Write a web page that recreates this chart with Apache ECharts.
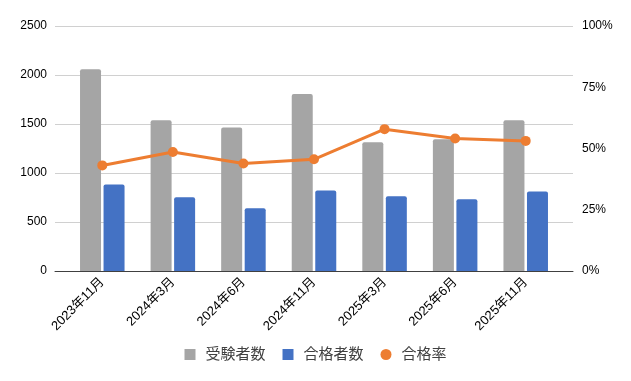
<!DOCTYPE html>
<html>
<head>
<meta charset="utf-8">
<script src="https://cdn.jsdelivr.net/npm/echarts@6/dist/echarts.min.js"></script>
<style>
html, body { margin: 0; padding: 0; background: #fff; }
#main { width: 631px; height: 381px; }
</style>
</head>
<body>
<div id="main"></div>
<script>
const months = ['2023年11月', '2024年3月', '2024年6月', '2024年11月', '2025年3月', '2025年6月', '2025年11月'];
const examinees = [2058, 1537, 1465, 1805, 1315, 1345, 1537];
const passers = [883, 753, 641, 821, 763, 732, 811];
const passRate = [0.431, 0.486, 0.439, 0.456, 0.579, 0.541, 0.531];

const font = '"Liberation Sans", "Noto Sans CJK JP", sans-serif';
const myChart = echarts.init(document.getElementById('main'));

const option = {
	animation: false,
	textStyle: { fontFamily: font },
	legend: {
		left: 'center',
		top: 342,
		itemWidth: 11,
		itemHeight: 11,
		itemGap: 17,
		textStyle: { fontSize: 15, color: '#404040', fontFamily: font, padding: [0, 0, 0, 5] },
		data: [
			{ name: '受験者数', icon: 'rect' },
			{ name: '合格者数', icon: 'rect' },
			{ name: '合格率', icon: 'circle' }
		]
	},
	// grid 0 draws the axes and gridlines, grid 1 holds the data
	grid: [
		{ left: 55, right: 58, top: 26, bottom: 110 },
		{ left: 67, right: 70, top: 26, bottom: 110 }
	],
	xAxis: [
		{
			type: 'category',
			gridIndex: 0,
			data: months,
			axisLine: { lineStyle: { color: '#404040', width: 1 } },
			axisTick: { show: false },
			axisLabel: { show: false }
		},
		{
			type: 'category',
			gridIndex: 1,
			data: months,
			axisLine: { show: false },
			axisTick: { show: false },
			axisLabel: {
				rotate: 45,
				fontSize: 13,
				color: '#000',
				margin: 9,
				fontFamily: font
			}
		}
	],
	yAxis: [
		{
			type: 'value',
			gridIndex: 0,
			min: 0,
			max: 2500,
			interval: 500,
			axisLine: { show: false },
			axisTick: { show: false },
			axisLabel: {
				fontSize: 12,
				color: '#000',
				margin: 8,
				formatter: function (v) { return String(v); }
			},
			splitLine: { lineStyle: { color: '#d0d0d0' } }
		},
		{
			type: 'value',
			gridIndex: 0,
			position: 'right',
			min: 0,
			max: 1,
			interval: 0.25,
			axisLine: { show: false },
			axisTick: { show: false },
			axisLabel: {
				fontSize: 12,
				color: '#000',
				margin: 9,
				formatter: function (v) { return Math.round(v * 100) + '%'; }
			},
			splitLine: { show: false }
		},
		{ type: 'value', gridIndex: 1, min: 0, max: 2500, show: false },
		{ type: 'value', gridIndex: 1, min: 0, max: 1, show: false, position: 'right' }
	],
	series: [
		{
			name: '受験者数',
			type: 'bar',
			xAxisIndex: 1,
			yAxisIndex: 2,
			data: examinees,
			barWidth: 21,
			barGap: '12%',
			itemStyle: { color: '#A5A5A5', borderRadius: [2, 2, 0, 0] }
		},
		{
			name: '合格者数',
			type: 'bar',
			xAxisIndex: 1,
			yAxisIndex: 2,
			data: passers,
			barWidth: 21,
			itemStyle: { color: '#4472C4', borderRadius: [2, 2, 0, 0] }
		},
		{
			name: '合格率',
			type: 'line',
			xAxisIndex: 1,
			yAxisIndex: 3,
			data: passRate,
			symbol: 'circle',
			symbolSize: 10,
			lineStyle: { color: '#ED7D31', width: 3 },
			itemStyle: { color: '#ED7D31' },
			z: 5
		}
	]
};

myChart.setOption(option);
</script>
</body>
</html>
